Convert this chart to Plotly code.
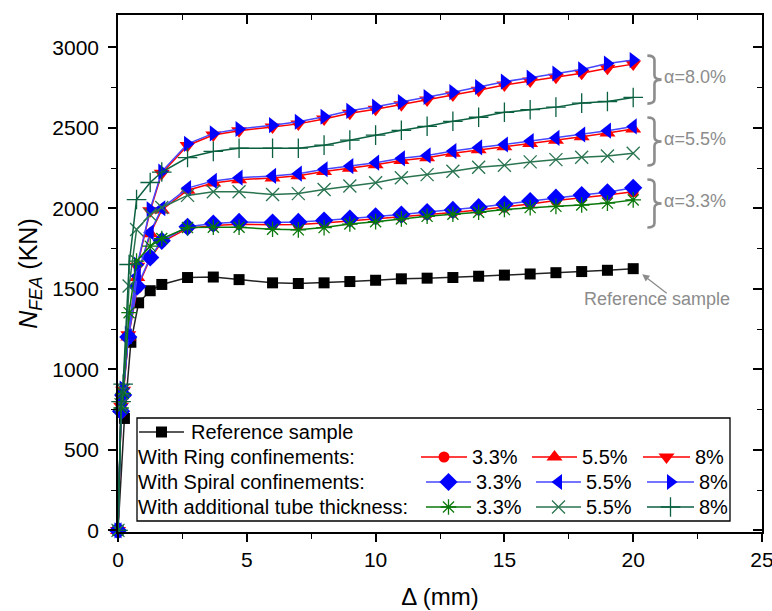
import plotly.graph_objects as go

# ---------------- data ----------------
X_REF = [0, 0.25, 0.5, 0.8, 1.25, 1.7, 2.7, 3.7, 4.7, 6, 7, 8, 9, 10, 11, 12, 13, 14, 15, 16, 17, 18, 19, 20]
N_REF = [0, 695, 1168, 1413, 1488, 1527, 1570, 1573, 1557, 1537, 1533, 1537, 1545, 1553, 1562, 1566, 1570,
         1578, 1585, 1592, 1600, 1607, 1615, 1625]

X_CONF = [0, 0.12, 0.2, 0.4, 0.75, 1.25, 1.7, 2.7, 3.7, 4.7, 6, 7, 8, 9, 10, 11, 12, 13, 14, 15, 16, 17, 18, 19, 20]
RING_33 = [0, 730, 830, 1195, 1505, 1688, 1790, 1875, 1893, 1901, 1897, 1899, 1909, 1922, 1935, 1946, 1962,
           1974, 1990, 2007, 2027, 2048, 2064, 2082, 2102]
RING_55 = [0, 750, 850, 1200, 1570, 1842, 1990, 2112, 2157, 2177, 2188, 2202, 2228, 2248, 2270, 2296, 2314,
           2342, 2364, 2382, 2402, 2422, 2444, 2467, 2492]
RING_8 = [0, 770, 870, 1215, 1640, 1985, 2217, 2390, 2455, 2482, 2505, 2524, 2554, 2590, 2615, 2643, 2673,
          2703, 2733, 2765, 2790, 2813, 2838, 2870, 2895]
SPIRAL_33 = [0, 740, 840, 1200, 1515, 1695, 1798, 1885, 1905, 1915, 1911, 1915, 1924, 1936, 1950, 1961, 1977,
             1990, 2007, 2025, 2045, 2066, 2082, 2099, 2127]
SPIRAL_55 = [0, 760, 860, 1205, 1580, 1850, 2000, 2125, 2170, 2190, 2201, 2215, 2242, 2262, 2283, 2310, 2328,
             2355, 2378, 2396, 2417, 2437, 2458, 2482, 2508]
SPIRAL_8 = [0, 780, 880, 1220, 1650, 1994, 2228, 2400, 2465, 2492, 2516, 2537, 2568, 2605, 2631, 2660, 2691,
            2721, 2753, 2786, 2811, 2837, 2862, 2899, 2920]

X_TUBE = [0, 0.12, 0.2, 0.43, 0.72, 1.25, 1.7, 2.7, 3.7, 4.7, 6, 7, 8, 9, 10, 11, 12, 13, 14, 15, 16, 17, 18, 19, 20]
TUBE_33 = [0, 760, 850, 1352, 1672, 1765, 1812, 1880, 1882, 1882, 1870, 1866, 1880, 1902, 1917, 1934, 1950,
           1963, 1975, 1992, 2004, 2012, 2020, 2032, 2052]
TUBE_55 = [0, 780, 870, 1517, 1868, 1960, 2005, 2080, 2103, 2103, 2086, 2091, 2117, 2138, 2158, 2189, 2209,
           2230, 2255, 2267, 2288, 2302, 2317, 2325, 2342]
TUBE_8 = [0, 800, 908, 1651, 2054, 2160, 2225, 2315, 2353, 2373, 2373, 2373, 2392, 2423, 2454, 2484, 2509,
          2540, 2565, 2596, 2612, 2628, 2653, 2663, 2688]

PCT_LABELS = ["3.3%", "5.5%", "8%"]
GROUP_LABELS = ["With Ring confinements:", "With Spiral confinements:", "With additional tube thickness:"]
ALPHA_LABELS = ["α=8.0%", "α=5.5%", "α=3.3%"]
ALPHA_LEVELS = [2814, 2433, 2048]          # label heights (kN)
BRACE_SPANS = [(2650, 2948), (2266, 2564), (1881, 2179)]  # brace extents (kN)

# ---------------- styles ----------------
FONT = "Liberation Sans, Arial, sans-serif"
RED, BLUE = "#ff0000", "#0000ff"
BLUE_LINE = "#4646ff"
G33, G55, G8 = "#0a780a", "#2a7450", "#0b6040"
GREY = "#8c8c8c"

series = [
    # x, y, line color, marker symbol, marker color, size, open?
    (X_REF, N_REF, "#222222", "square", "#000000", 11, False),
    (X_CONF, RING_33, RED, "circle", RED, 11, False),
    (X_CONF, RING_55, RED, "triangle-up", RED, 14, False),
    (X_CONF, RING_8, RED, "triangle-down", RED, 14, False),
    (X_CONF, SPIRAL_33, BLUE_LINE, "diamond", BLUE, 14, False),
    (X_CONF, SPIRAL_55, BLUE_LINE, "triangle-left", BLUE, 14, False),
    (X_CONF, SPIRAL_8, BLUE_LINE, "triangle-right", BLUE, 14, False),
    (X_TUBE, TUBE_33, G33, "asterisk-open", G33, 13, True),
    (X_TUBE, TUBE_55, G55, "x-thin-open", G55, 13, True),
    (X_TUBE, TUBE_8, G8, "cross-thin-open", G8, 14, True),
]

fig = go.Figure()


def marker_dict(sym, col, size, is_open):
    if is_open:
        return dict(symbol=sym, size=size, color=col, line=dict(color=col, width=1.3))
    return dict(symbol=sym, size=size, color=col, line=dict(width=0))


for xs, ys, lc, sym, mc, ms, op in series:
    fig.add_trace(go.Scatter(x=xs, y=ys, mode="lines+markers", cliponaxis=False,
                             line=dict(color=lc, width=1.5),
                             marker=marker_dict(sym, mc, ms, op), showlegend=False,
                             xaxis="x", yaxis="y"))

# dummy trace for mirrored (inside-tick) top/right axes
fig.add_trace(go.Scatter(x=[None], y=[None], xaxis="x2", yaxis="y2", showlegend=False))

# ---------------- hand-built legend (pixel-unit overlay axes) ----------------
def leg_sample(x0, x1, yy, s):
    _, _, lc, sym, mc, ms, op = s
    fig.add_trace(go.Scatter(x=[x0, x1], y=[yy, yy], mode="lines", line=dict(color=lc, width=1.5),
                             xaxis="x3", yaxis="y3", showlegend=False, cliponaxis=False))
    fig.add_trace(go.Scatter(x=[(x0 + x1) / 2], y=[yy], mode="markers", marker=marker_dict(sym, mc, ms, op),
                             xaxis="x3", yaxis="y3", showlegend=False, cliponaxis=False))


annotations = []


def leg_text(x, yy, t):
    annotations.append(dict(x=x, y=yy, xref="x3", yref="y3", text=t, showarrow=False,
                            xanchor="left", yanchor="middle", font=dict(size=20, color="#000000", family=FONT)))


row_y = [432, 457, 482, 507]
leg_sample(139, 184, row_y[0], series[0])
leg_text(189, row_y[0], "Reference sample")
col_sets = [
    [(421, 467), (532, 577), (643, 690)],
    [(426, 471), (536, 581), (647, 694)],
    [(426, 471), (536, 581), (647, 694)],
]
for g in range(3):
    yy = row_y[g + 1]
    leg_text(136, yy, GROUP_LABELS[g])
    for k in range(3):
        x0, x1 = col_sets[g][k]
        leg_sample(x0, x1, yy, series[1 + 3 * g + k])
        leg_text(x1 + 3, yy, PCT_LABELS[k])

# curly braces (drawn as paths) and alpha labels
BX0, BX1 = 20.55, 21.1   # brace left / tip, in Δ units
for lab, lev, (lo, hi) in zip(ALPHA_LABELS, ALPHA_LEVELS, BRACE_SPANS):
    xm = (BX0 + BX1) / 2
    ym = (lo + hi) / 2
    r = 28
    path = (f"M {BX0},{hi} Q {xm},{hi} {xm},{hi - r} L {xm},{ym + r} Q {xm},{ym} {BX1},{ym} "
            f"Q {xm},{ym} {xm},{ym - r} L {xm},{lo + r} Q {xm},{lo} {BX0},{lo}")
    fig.add_shape(type="path", path=path, xref="x", yref="y", line=dict(color=GREY, width=2.6))
    annotations.append(dict(x=21.1, y=lev, xref="x", yref="y", text=lab, showarrow=False,
                            xanchor="left", yanchor="middle",
                            font=dict(size=18, color=GREY, family=FONT)))

# reference-sample call-out
annotations.append(dict(x=20.35, y=1590, xref="x", yref="y", ax=26, ay=20, text="",
                        showarrow=True, arrowhead=2, arrowsize=1.1, arrowwidth=1.3, arrowcolor=GREY))
annotations.append(dict(x=20.92, y=1435, xref="x", yref="y", text="Reference sample", showarrow=False,
                        xanchor="center", yanchor="middle", font=dict(size=18, color=GREY, family=FONT)))

fig.add_shape(type="rect", x0=137, x1=730, y0=418, y1=521, xref="x3", yref="y3",
              line=dict(color="#000000", width=1.3), fillcolor="white", layer="below")

axis_common = dict(showgrid=False, zeroline=False, showline=True, linecolor="#000000", linewidth=1.6,
                   automargin=False)

fig.update_layout(
    width=772, height=611,
    margin=dict(l=118, r=10, t=15, b=79, autoexpand=False),
    paper_bgcolor="white", plot_bgcolor="white",
    font=dict(family=FONT, size=21, color="#000000"),
    xaxis=dict(range=[0, 25], dtick=5, tick0=0, ticks="outside", ticklen=8, tickwidth=1.6,
               tickcolor="#000000", ticklabeloverflow="allow",
               minor=dict(dtick=2.5, ticks="outside", ticklen=5, tickwidth=1.4, tickcolor="#000000"),
               title=dict(text="Δ (mm)", font=dict(size=24), standoff=18), **axis_common),
    yaxis=dict(range=[-10, 3200], dtick=500, tick0=0, ticks="outside", ticklen=8, tickwidth=1.6,
               tickcolor="#000000", ticklabelstandoff=5,
               minor=dict(dtick=250, ticks="outside", ticklen=5, tickwidth=1.4, tickcolor="#000000"),
               title=dict(text="<i>N</i><sub><i>FEA</i></sub> (KN)", font=dict(size=25), standoff=8),
               **axis_common),
    xaxis2=dict(range=[0, 25], overlaying="x", side="top", anchor="y2", dtick=5, tick0=0, ticks="inside",
                ticklen=9, tickwidth=1.6, tickcolor="#000000", showticklabels=False,
                minor=dict(dtick=2.5, ticks="inside", ticklen=5, tickwidth=1.4, tickcolor="#000000"),
                **axis_common),
    yaxis2=dict(range=[-10, 3200], overlaying="y", side="right", anchor="x2", dtick=500, tick0=0,
                ticks="inside", ticklen=9, tickwidth=1.6, tickcolor="#000000", showticklabels=False,
                minor=dict(dtick=250, ticks="inside", ticklen=5, tickwidth=1.4, tickcolor="#000000"),
                **axis_common),
    xaxis3=dict(range=[118, 762], overlaying="x", anchor="y3", visible=False),
    yaxis3=dict(range=[532, 15], overlaying="y", anchor="x3", visible=False),
    annotations=annotations,
)

fig.write_html("out.html", config={"displayModeBar": False},
               post_script="document.body.style.margin='0px';document.body.style.overflow='hidden';")
